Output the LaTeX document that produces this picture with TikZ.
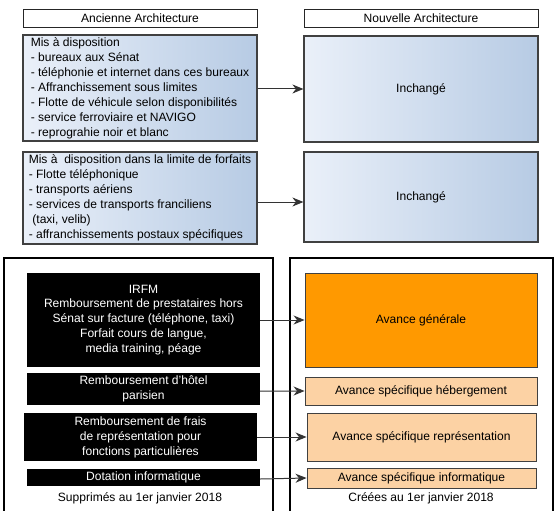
\documentclass[tikz,border=0pt]{standalone}
\usepackage{fontspec}
\setmainfont{Liberation Sans}
\usepackage{xcolor}
\usepackage{tikz}
\usetikzlibrary{arrows.meta}
\definecolor{lblue}{HTML}{EAF0F9}
\definecolor{dblue}{HTML}{B7CBE4}
\definecolor{orng}{HTML}{FF9900}
\definecolor{lorng}{HTML}{FCD2A4}
\colorlet{edge}{black!75}
\newcommand\txt{\fontsize{12.1}{15}\selectfont}
\tikzstyle{head}=[draw=black!85,line width=.8pt,minimum width=234bp,minimum height=18bp,inner sep=0pt,font=\txt]
\tikzstyle{oldbox}=[draw=edge,line width=1.2pt,left color=lblue,right color=dblue,minimum width=234bp,inner sep=0pt,font=\txt]
\tikzstyle{oldtext}=[oldbox,align=left]
\tikzstyle{gone}=[fill=black,text=white,minimum width=233bp,inner sep=0pt,align=center,font=\txt]
\tikzstyle{adv}=[draw=edge,line width=.9pt,fill=lorng,inner sep=0pt,align=center,font=\txt]
\tikzstyle{frame}=[line width=2.4pt]
\tikzstyle{conn}=[draw=black!80,line width=1pt,-{Stealth[length=11bp,width=9bp,inset=3.5bp]}]
\begin{document}
\begin{tikzpicture}[x=1bp,y=-1bp]
	\useasboundingbox (0,0) rectangle (555,511);
	% column headers
	\node[head] (hold) at (140,18) {Ancienne Architecture};
	\node[head] (hnew) at (421,18) {Nouvelle Architecture};
	% kept services
	\node[oldtext,minimum height=106bp] (old1) at (140,88) {Mis à disposition\\
		- bureaux aux Sénat\\
		- téléphonie et internet dans ces bureaux\\
		- Affranchissement sous limites\\
		- Flotte de véhicule selon disponibilités\\
		- service ferroviaire et NAVIGO\\
		- reprograhie noir et blanc};
	\node[oldbox,minimum height=106bp] (new1) at (421,89) {Inchangé};
	\node[oldtext,minimum height=92bp] (old2) at (140,198) {Mis à\ \ disposition dans la limite de forfaits\\
		- Flotte téléphonique\\
		- transports aériens\\
		- services de transports franciliens\\
		\hspace*{.3em}(taxi, velib)\\
		- affranchissements postaux spécifiques};
	\node[oldbox,minimum height=90bp] (new2) at (421,197) {Inchangé};
	% thick frames
	\draw[frame] (4,520) -- (4,258) -- (273,258) -- (273,520);
	\draw[frame] (290,520) -- (290,258) -- (553,258) -- (553,520);
	% removed items
	\node[gone,minimum height=94bp] (irfm) at (143.5,320) {IRFM\\
		Remboursement de prestataires hors\\
		Sénat sur facture (téléphone, taxi)\\
		Forfait cours de langue,\\
		media training, péage};
	\node[gone,minimum height=32bp] (hotel) at (143.5,389) {Remboursement d'hôtel\\parisien};
	\node[gone,minimum height=48bp] (repr) at (140.5,437) {Remboursement de frais\\de représentation pour\\fonctions particulières};
	\node[gone,minimum height=17bp] (info) at (143.5,477) {Dotation informatique};
	\node[font=\txt] (lgone) at (140,498) {Supprimés au 1er janvier 2018};
	% new advances
	\node[adv,fill=orng,minimum width=232bp,minimum height=94bp] (agen) at (421,320) {Avance générale};
	\node[adv,minimum width=232bp,minimum height=28bp] (aheb) at (421,391) {Avance spécifique hébergement};
	\node[adv,minimum width=229bp,minimum height=48bp] (arep) at (421.5,437) {Avance spécifique représentation};
	\node[adv,minimum width=229bp,minimum height=20bp] (ainf) at (421.5,478) {Avance spécifique informatique};
	\node[font=\txt] (lnew) at (421,498) {Créées au 1er janvier 2018};
	% connectors
	\draw[conn] ([yshift=-1bp]old1.east) -- (new1.west);
	\draw[conn] ([yshift=-4bp]old2.east) -- ([yshift=-4bp]old2.east -| new2.west);
	\draw[conn] (irfm.east) -- (agen.west);
	\draw[conn] ([yshift=-2bp]hotel.east) -- (aheb.west);
	\draw[conn] (repr.east) -- (arep.west);
	\draw[conn] ([yshift=-2bp]info.east) -- (ainf.west);
\end{tikzpicture}
\end{document}
